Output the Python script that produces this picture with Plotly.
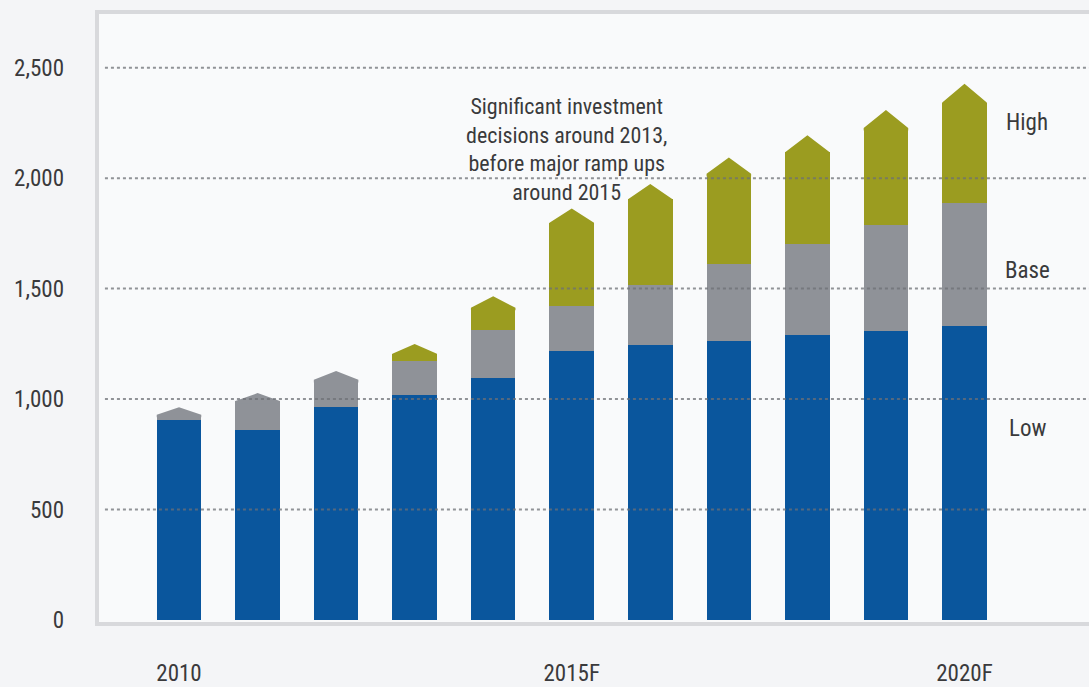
import plotly.graph_objects as go

# Capacity outlook by scenario (cumulative totals per year)
years = ["2010", "2011", "2012", "2013", "2014", "2015F", "2016F", "2017F", "2018F", "2019F", "2020F"]
low = [907, 862, 963, 1017, 1095, 1219, 1245, 1263, 1290, 1308, 1332]
base = [963, 1027, 1127, 1173, 1312, 1422, 1515, 1613, 1700, 1788, 1888]
high = [None, None, None, 1249, 1465, 1863, 1973, 2093, 2194, 2308, 2427]

tick_years = ["2010", "2015F", "2020F"]
y_ticks = [0, 500, 1000, 1500, 2000, 2500]
note = "Significant investment<br>decisions around 2013,<br>before major ramp ups<br>around 2015"

BLUE = "#0a569d"
GREY = "#8f9298"
OLIVE = "#9b9c20"
TEXT = "#3a3a3c"
FONT = "Liberation Sans Narrow, Roboto Condensed, DejaVu Sans Condensed, Arial Narrow, sans-serif"

BAR_W = 0.567
CAP_RATIO = 0.035  # arrow-head height relative to the bar's tip value
OVERLAP = 12       # arrow head reaches slightly into the rectangle below it

x = list(range(len(years)))

fig = go.Figure()

# Blue "Low" segment from zero
fig.add_trace(go.Bar(x=x, y=low, base=[0] * len(x), width=BAR_W,
                     marker=dict(color=BLUE, line=dict(width=0)), name="Low"))

grey_b, grey_h, olive_b, olive_h = [], [], [], []
heads = {GREY: ([], []), OLIVE: ([], [])}
for i in x:
    top_is_base = high[i] is None
    tip = base[i] if top_is_base else high[i]
    seg_lo = low[i] if top_is_base else base[i]
    cap = min(CAP_RATIO * tip, tip - seg_lo)
    shoulder = tip - cap
    # grey "Base" rectangle
    g_top = shoulder if top_is_base else base[i]
    grey_b.append(low[i])
    grey_h.append(g_top - low[i])
    if not top_is_base:
        olive_b.append(base[i])
        olive_h.append(shoulder - base[i])
    else:
        olive_b.append(None)
        olive_h.append(None)
    col = GREY if top_is_base else OLIVE
    foot = max(seg_lo, shoulder - OVERLAP)
    hx, hy = heads[col]
    hx += [i - BAR_W / 2, i - BAR_W / 2, i, i + BAR_W / 2, i + BAR_W / 2, i - BAR_W / 2, None]
    hy += [foot, shoulder, tip, shoulder, foot, foot, None]

fig.add_trace(go.Bar(x=x, y=grey_h, base=grey_b, width=BAR_W,
                     marker=dict(color=GREY, line=dict(width=0)), name="Base"))
fig.add_trace(go.Bar(x=x, y=olive_h, base=olive_b, width=BAR_W,
                     marker=dict(color=OLIVE, line=dict(width=0)), name="High"))

# Arrow heads on top of each column
for col, (hx, hy) in heads.items():
    fig.add_trace(go.Scatter(x=hx, y=hy, mode="lines", fill="toself", fillcolor=col,
                             line=dict(width=0, color=col), hoverinfo="skip"))

shapes = []
# Frame around the plotting area (open to the right)
shapes.append(dict(type="rect", xref="paper", yref="paper", x0=0, x1=1.05, y0=0, y1=1,
                   line=dict(color="#d8d9dc", width=4), layer="below"))
# Dotted gridlines drawn over the columns
for v in y_ticks[1:]:
    shapes.append(dict(type="line", xref="paper", yref="y", x0=0.008, x1=1.0, y0=v, y1=v,
                       line=dict(color="rgba(110,112,118,0.75)", width=2, dash="dot"),
                       layer="above"))

annotations = [
    dict(text=note, xref="paper", yref="paper", x=0.4728, y=0.776, showarrow=False,
         font=dict(family=FONT, size=22, color=TEXT), align="center",
         xanchor="center", yanchor="middle"),
]
for label, yp in [("High", 0.8195), ("Base", 0.577), ("Low", 0.320)]:
    annotations.append(dict(text=label, xref="paper", yref="paper", x=0.9375, y=yp,
                            showarrow=False, xanchor="center", yanchor="middle",
                            font=dict(family=FONT, size=23, color=TEXT)))

fig.update_layout(
    width=1089, height=687,
    margin=dict(l=97, r=0, t=12, b=60),
    paper_bgcolor="#f4f5f7", plot_bgcolor="#f9fafb",
    barmode="overlay", bargap=0, showlegend=False,
    shapes=shapes, annotations=annotations,
    font=dict(family=FONT, size=23, color=TEXT),
    xaxis=dict(range=[-1.044, 11.585], tickvals=[0, 5, 10], ticktext=tick_years,
               showgrid=False, zeroline=False, showline=False, ticks="",
               ticklabelstandoff=33, fixedrange=True),
    yaxis=dict(range=[-18, 2752], tickvals=y_ticks, tickformat=",",
               showgrid=False, zeroline=False, showline=False, ticks="",
               ticklabelstandoff=32, fixedrange=True),
)

fig.write_html("out.html")
